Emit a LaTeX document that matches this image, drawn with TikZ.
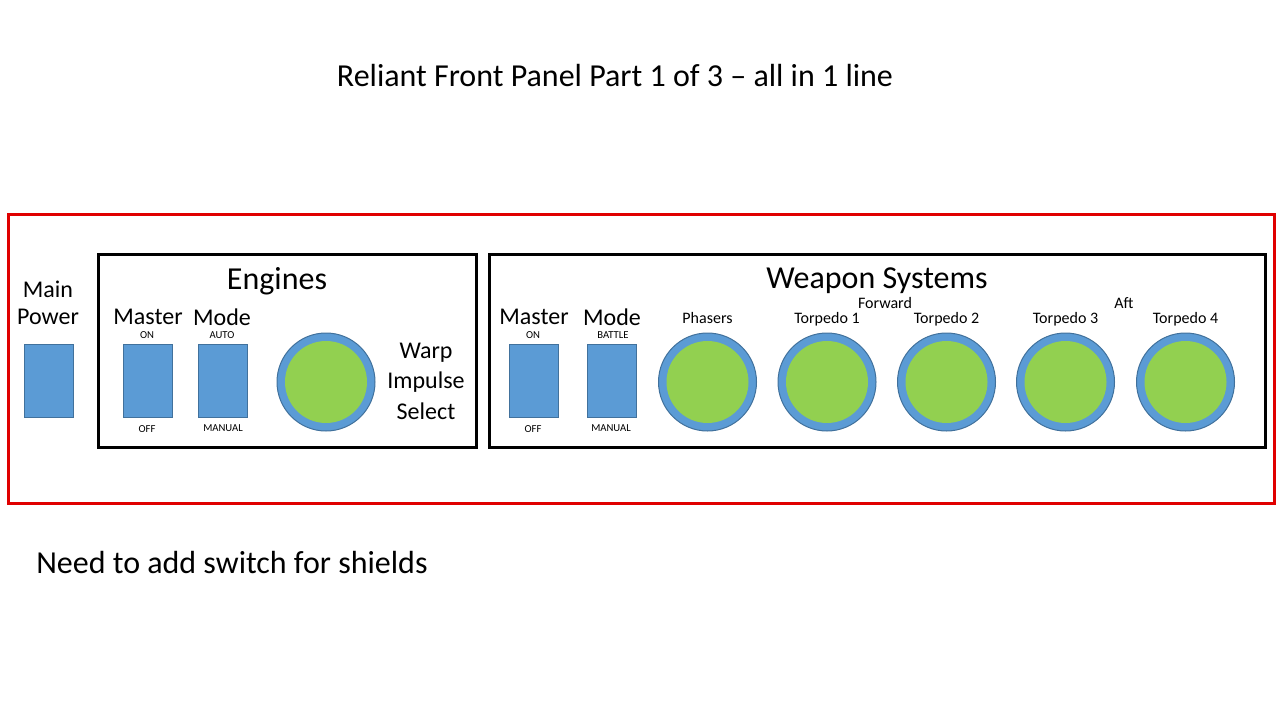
\documentclass[tikz,border=0pt]{standalone}
\usepackage{fontspec}
\setmainfont{Carlito}
\definecolor{swblue}{HTML}{5B9BD5}
\definecolor{swedge}{HTML}{41719C}
\definecolor{knobgreen}{HTML}{92D050}
\definecolor{panelred}{HTML}{E00000}
\begin{document}
\begin{tikzpicture}[x=0.75pt,y=-0.75pt,
  switchbox/.style={draw=swedge,fill=swblue,line width=0.75pt,minimum width=36.75pt,minimum height=54.75pt,inner sep=0pt},
  knobouter/.style={circle,draw=swedge,fill=swblue,line width=0.75pt,minimum size=73.5pt,inner sep=0pt},
  knobinner/.style={circle,fill=knobgreen,minimum size=61.5pt,inner sep=0pt},
  groupbox/.style={draw=black,line width=2.25pt},
  big/.style={font=\fontsize{24}{28}\selectfont,inner sep=0pt},
  mid/.style={font=\fontsize{18}{21}\selectfont,inner sep=0pt},
  small/.style={font=\fontsize{12}{14}\selectfont,inner sep=0pt},
  tiny/.style={font=\fontsize{8}{10}\selectfont,inner sep=0pt}]
\useasboundingbox (0,0) rectangle (1280,720);
% title
\node[inner sep=0pt,font=\fontsize{24}{28}\selectfont] (title) at (615,76) {Reliant Front Panel Part 1 of 3 – all in 1 line};
% outer red frame
\draw[draw=panelred,line width=2.25pt] (8,215) rectangle (1274,503);
% group boxes
\draw[groupbox] (98,254) rectangle (476,447);
\draw[groupbox] (489,254) rectangle (1265,447);
% main power
\node[mid] (mainl) at (48,289) {Main};
\node[mid] (powerl) at (48,317) {Power};
\node[switchbox] (mainsw) at (48.5,380.5) {};
% engines
\node[big] (engines) at (277,281) {Engines};
\node[mid] (emaster) at (148,317) {Master};
\node[mid] (emode) at (222,317) {Mode};
\node[tiny] (eon) at (147,335) {ON};
\node[tiny] (eauto) at (222,335) {AUTO};
\node[switchbox] (emastersw) at (147.5,380.5) {};
\node[switchbox] (emodesw) at (222.5,380.5) {};
\node[tiny] (eoff) at (147,429) {OFF};
\node[tiny] (emanual) at (223,428) {MANUAL};
\node[knobouter] (eknob) at (326,382) {};
\node[knobinner] (eknobin) at (326,382) {};
\node[mid] (warp) at (426,353) {Warp};
\node[mid] (impulse) at (426,382) {Impulse};
\node[mid] (select) at (426,411) {Select};
% weapons
\node[big] (weapons) at (877,281) {Weapon Systems};
\node[small] (forward) at (885,303) {Forward};
\node[small] (aft) at (1124,303) {Aft};
\node[mid] (wmaster) at (534,317) {Master};
\node[mid] (wmode) at (612,317) {Mode};
\node[tiny] (won) at (533,335) {ON};
\node[tiny] (wbattle) at (613,335) {BATTLE};
\node[switchbox] (wmastersw) at (533.5,380.5) {};
\node[switchbox] (wmodesw) at (611.5,380.5) {};
\node[tiny] (woff) at (533,429) {OFF};
\node[tiny] (wmanual) at (611,428) {MANUAL};
\foreach \x/\lab/\nm in {707.5/Phasers/phasers,827/Torpedo 1/torpa,946.5/Torpedo 2/torpb,1065.5/Torpedo 3/torpc,1185.5/Torpedo 4/torpd}{
  \node[small,text depth=0pt] (\nm-label) at (\x,318) {\lab};
  \node[knobouter] (\nm) at (\x,382) {};
  \node[knobinner] (\nm-in) at (\x,382) {};
}
% note
\node[big,anchor=west] (note) at (36,563) {Need to add switch for shields};
\end{tikzpicture}
\end{document}
